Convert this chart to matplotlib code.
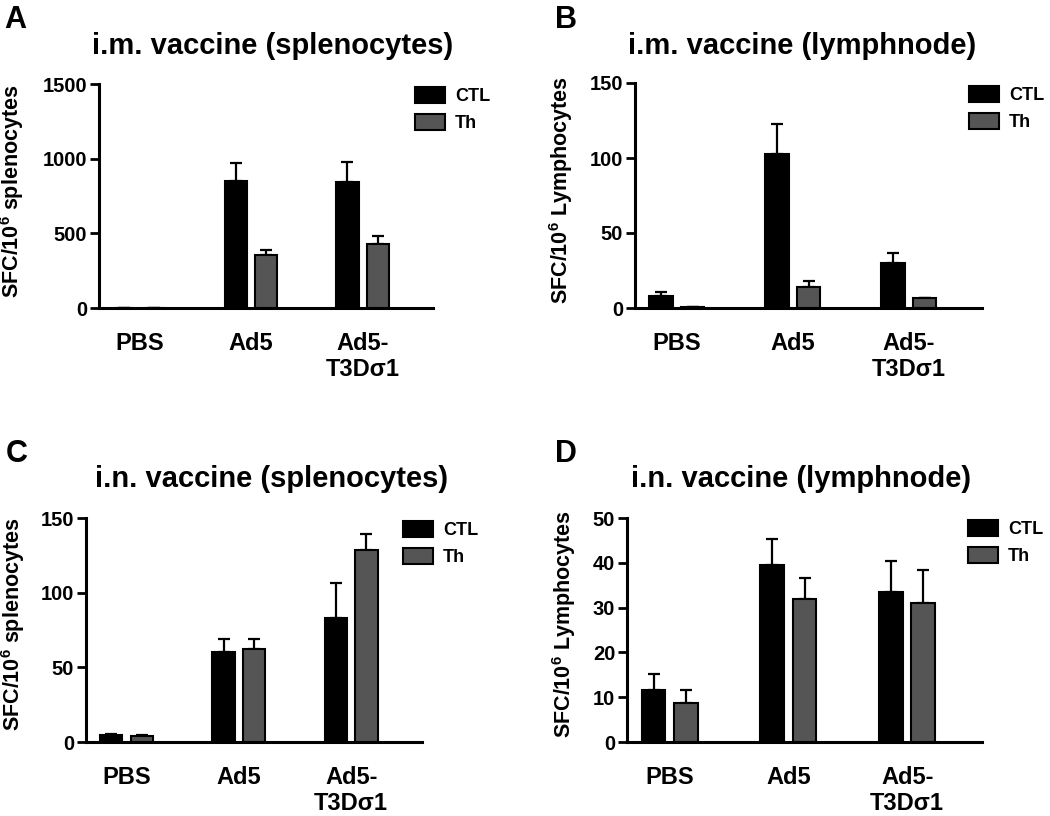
from matplotlib import pyplot as plt
import numpy as np

plt.rcParams["font.family"] = ["Liberation Sans", "DejaVu Sans"]
plt.rcParams["font.weight"] = "bold"
plt.rcParams["mathtext.fontset"] = "custom"
plt.rcParams["mathtext.rm"] = "Liberation Sans:bold"
plt.rcParams["mathtext.bf"] = "Liberation Sans:bold"

groups = ["PBS", "Ad5", "Ad5-\nT3Dσ1"]

# panel A: i.m. vaccine, splenocytes
a_ctl = [3, 850, 842]
a_ctl_sem = [0, 121, 138]
a_th = [2, 355, 427]
a_th_sem = [0, 33, 55]

# panel B: i.m. vaccine, lymphnode
b_ctl = [7.7, 102.6, 30]
b_ctl_sem = [3.3, 20, 6.6]
b_th = [0.5, 14, 6.6]
b_th_sem = [0, 3.7, 0.2]

# panel C: i.n. vaccine, splenocytes
c_ctl = [4.5, 60, 83.3]
c_ctl_sem = [1, 9, 23]
c_th = [4, 62, 128.7]
c_th_sem = [0.5, 7, 10.6]

# panel D: i.n. vaccine, lymphnode
d_ctl = [11.6, 39.6, 33.5]
d_ctl_sem = [3.6, 5.8, 6.9]
d_th = [8.7, 31.9, 31.1]
d_th_sem = [2.9, 4.6, 7.2]

W, H = 1050, 816
fig = plt.figure(figsize=(W / 100, H / 100), dpi=100)


def px_axes(left, top, right, bottom):
    return fig.add_axes([left / W, 1 - bottom / H, (right - left) / W, (bottom - top) / H])


def panel(box, ctl, ctl_sem, th, th_sem, ymax, yticks, ylabel, ylabel_xy,
          title, title_xy, letter, letter_xy, legend_xy):
    ax = px_axes(*box)
    x = np.arange(len(groups))
    off, width = 0.136, 0.2
    b1 = ax.bar(x - off, ctl, width, color="black", edgecolor="black",
                linewidth=1.5, label="CTL", zorder=2)
    b2 = ax.bar(x + off, th, width, color="#555555", edgecolor="black",
                linewidth=1.5, label="Th", zorder=2)
    ax.errorbar(x - off, ctl, yerr=[np.zeros(3), ctl_sem], fmt="none",
                ecolor="black", elinewidth=1.6, capsize=4.3, capthick=1.6, zorder=1)
    ax.errorbar(x + off, th, yerr=[np.zeros(3), th_sem], fmt="none",
                ecolor="black", elinewidth=1.6, capsize=4.3, capthick=1.6, zorder=1)

    ax.set_xlim(-0.36, 2.63)
    ax.set_ylim(0, ymax)
    ax.set_yticks(yticks)
    ax.set_xticks(x)
    ax.set_xticklabels(groups, fontsize=17, fontweight="bold")
    ax.tick_params(axis="x", length=0, pad=17)
    ax.tick_params(axis="y", length=6.5, width=2, labelsize=14.5, pad=2)
    for t in ax.get_yticklabels():
        t.set_fontweight("bold")
    for s in ["top", "right"]:
        ax.spines[s].set_visible(False)
    for s in ["left", "bottom"]:
        ax.spines[s].set_linewidth(2.2)

    fig.text(ylabel_xy[0] / W, 1 - ylabel_xy[1] / H, ylabel, rotation=90,
             ha="center", va="center", fontsize=15.5, fontweight="bold")
    fig.text(title_xy[0] / W, 1 - title_xy[1] / H, title, ha="center",
             va="baseline", fontsize=21, fontweight="bold")
    fig.text(letter_xy[0] / W, 1 - letter_xy[1] / H, letter, ha="left",
             va="baseline", fontsize=22, fontweight="bold")
    ax.legend(handles=[b1, b2], loc="upper left",
              bbox_to_anchor=(legend_xy[0] / W, 1 - legend_xy[1] / H),
              bbox_transform=fig.transFigure, frameon=False, borderpad=0,
              borderaxespad=0, fontsize=13, handlelength=1.66, handleheight=1.02,
              handletextpad=0.55, labelspacing=0.47,
              prop={"weight": "bold", "size": 13})
    return ax


panel((99, 84, 433, 308), a_ctl, a_ctl_sem, a_th, a_th_sem, 1500,
      [0, 500, 1000, 1500], r"SFC/10$^{6}$ splenocytes", (12.5, 191),
      "i.m. vaccine (splenocytes)", (273, 54), "A", (4, 28), (415, 87))
panel((635, 83, 982, 308), b_ctl, b_ctl_sem, b_th, b_th_sem, 150,
      [0, 50, 100, 150], r"SFC/10$^{6}$ Lymphocytes", (561, 190),
      "i.m. vaccine (lymphnode)", (802, 54), "B", (555, 28), (969, 86))
panel((86, 518, 422, 742), c_ctl, c_ctl_sem, c_th, c_th_sem, 150,
      [0, 50, 100, 150], r"SFC/10$^{6}$ splenocytes", (13, 624),
      "i.n. vaccine (splenocytes)", (272, 487), "C", (6, 462), (403, 521))
panel((627, 518, 982, 742), d_ctl, d_ctl_sem, d_th, d_th_sem, 50,
      [0, 10, 20, 30, 40, 50], r"SFC/10$^{6}$ Lymphocytes", (564, 624),
      "i.n. vaccine (lymphnode)", (801, 487), "D", (555, 462), (968, 520))

fig.savefig("out.png", dpi=100)
